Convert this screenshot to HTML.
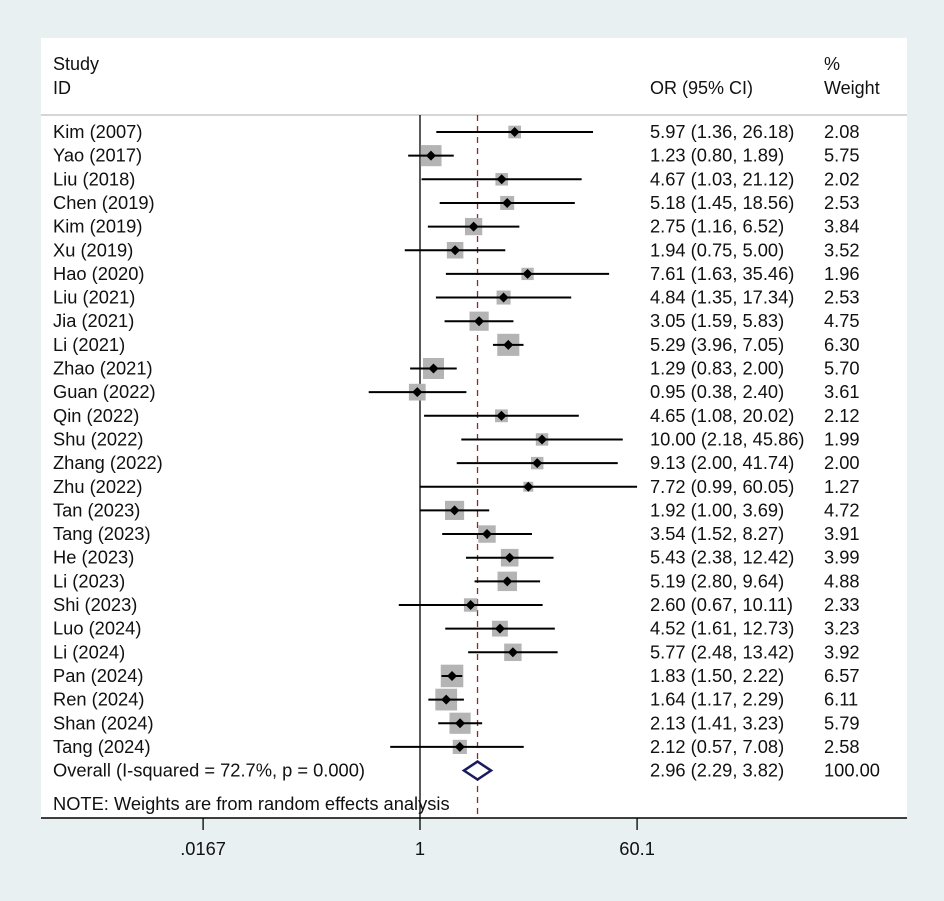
<!DOCTYPE html>
<html><head><meta charset="utf-8"><style>
html,body{margin:0;padding:0;background:#e9f0f2;}
svg{display:block;font-family:"Liberation Sans",Arial,sans-serif;}
</style></head><body>
<svg id="c" width="944" height="901" xmlns="http://www.w3.org/2000/svg">
<rect x="0" y="0" width="944" height="901" fill="#e9f0f2"/>
<rect x="41" y="38" width="866" height="780" fill="#ffffff"/>
<line x1="41" y1="115" x2="907" y2="115" stroke="#c8c8c8" stroke-width="1.5"/>
<text x="53" y="70" font-size="18" fill="#111">Study</text>
<text x="53" y="94" font-size="18" fill="#111">ID</text>
<text x="650" y="94" font-size="18" fill="#111">OR (95% CI)</text>
<text x="824" y="70" font-size="18" fill="#111">%</text>
<text x="824" y="94" font-size="18" fill="#111">Weight</text>
<g id="g"></g>
</svg>
<script>
const studies=["Kim (2007)","Yao (2017)","Liu (2018)","Chen (2019)","Kim (2019)","Xu (2019)","Hao (2020)","Liu (2021)","Jia (2021)","Li (2021)","Zhao (2021)","Guan (2022)","Qin (2022)","Shu (2022)","Zhang (2022)","Zhu (2022)","Tan (2023)","Tang (2023)","He (2023)","Li (2023)","Shi (2023)","Luo (2024)","Li (2024)","Pan (2024)","Ren (2024)","Shan (2024)","Tang (2024)"];
const orVals=[5.97,1.23,4.67,5.18,2.75,1.94,7.61,4.84,3.05,5.29,1.29,0.95,4.65,10.00,9.13,7.72,1.92,3.54,5.43,5.19,2.60,4.52,5.77,1.83,1.64,2.13,2.12];
const lowerCI=[1.36,0.80,1.03,1.45,1.16,0.75,1.63,1.35,1.59,3.96,0.83,0.38,1.08,2.18,2.00,0.99,1.00,1.52,2.38,2.80,0.67,1.61,2.48,1.50,1.17,1.41,0.57];
const upperCI=[26.18,1.89,21.12,18.56,6.52,5.00,35.46,17.34,5.83,7.05,2.00,2.40,20.02,45.86,41.74,60.05,3.69,8.27,12.42,9.64,10.11,12.73,13.42,2.22,2.29,3.23,7.08];
const weights=[2.08,5.75,2.02,2.53,3.84,3.52,1.96,2.53,4.75,6.30,5.70,3.61,2.12,1.99,2.00,1.27,4.72,3.91,3.99,4.88,2.33,3.23,3.92,6.57,6.11,5.79,2.58];
const overall=[2.96,2.29,3.82];
const tickVals=[0.0167,1,60.1];
const tickLabels=[".0167","1","60.1"];
const NS="http://www.w3.org/2000/svg";
const g=document.getElementById('g');
const X=v=>420+53*Math.log(v);
const Y=i=>132+i*23.65;
const FS=18.3;
function mk(t,a,p){const e=document.createElementNS(NS,t);for(const k in a)e.setAttribute(k,a[k]);(p||g).appendChild(e);return e;}
let e=mk('line',{x1:X(1),y1:115,x2:X(1),y2:818,stroke:'#000','stroke-width':1.3});


e=mk('line',{x1:X(overall[0]),y1:115,x2:X(overall[0]),y2:818,stroke:'#8b2a2a','stroke-width':1.3,'stroke-dasharray':'6,5'});


studies.forEach((s,i)=>{
  const y=Y(i);
  let t=mk('text',{x:53,y:y+6,'font-size':FS,fill:'#111'});t.textContent=s;
  
  
  const sz=8.8*Math.sqrt(weights[i]);
  let b=mk('rect',{x:X(orVals[i])-sz/2,y:y-sz/2,width:sz,height:sz,fill:'#b4b4b4'});
  
  
  let l=mk('line',{x1:X(lowerCI[i]),y1:y,x2:X(upperCI[i]),y2:y,stroke:'#000','stroke-width':2});
  
  
  let p=mk('path',{d:`M${X(orVals[i])-5},${y}L${X(orVals[i])},${y-5}L${X(orVals[i])+5},${y}L${X(orVals[i])},${y+5}Z`,fill:'#000'});
  
  
  t=mk('text',{x:650,y:y+6,'font-size':FS,fill:'#111'});
  t.textContent=`${orVals[i].toFixed(2)} (${lowerCI[i].toFixed(2)}, ${upperCI[i].toFixed(2)})`;
  
  
  t=mk('text',{x:824,y:y+6,'font-size':FS,fill:'#111'});t.textContent=weights[i].toFixed(2);
  
  
});
const oy=Y(27);
let t=mk('text',{x:53,y:oy+6,'font-size':FS,fill:'#111'});t.textContent="Overall  (I-squared = 72.7%, p = 0.000)";


let d=mk('path',{d:`M${X(overall[1])},${oy}L${X(overall[0])},${oy-9}L${X(overall[2])},${oy}L${X(overall[0])},${oy+9}Z`,fill:'#fff',stroke:'#1a1a5e','stroke-width':2.5});


t=mk('text',{x:650,y:oy+6,'font-size':FS,fill:'#111'});t.textContent=`${overall[0].toFixed(2)} (${overall[1].toFixed(2)}, ${overall[2].toFixed(2)})`;


t=mk('text',{x:824,y:oy+6,'font-size':FS,fill:'#111'});t.textContent="100.00";


t=mk('text',{x:53,y:810,'font-size':FS,fill:'#111'});t.textContent="NOTE: Weights are from random effects analysis";


let ax=mk('line',{x1:41,y1:818,x2:907,y2:818,stroke:'#000','stroke-width':1.5});


tickVals.forEach((v,i)=>{
  let k=mk('line',{x1:X(v),y1:818,x2:X(v),y2:830,stroke:'#000','stroke-width':1.3});
  
  
  let tl=mk('text',{x:X(v),y:855,'font-size':FS,fill:'#111','text-anchor':'middle'});tl.textContent=tickLabels[i];
  
  
});
</script>
</body></html>
